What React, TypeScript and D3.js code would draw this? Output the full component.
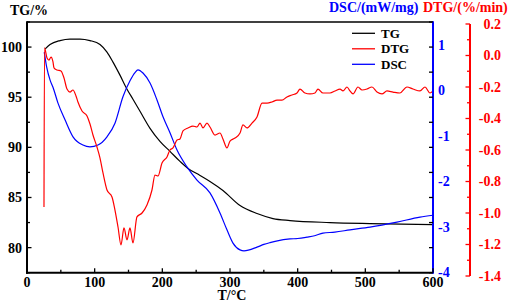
import React from "react";
import * as d3 from "d3";

// ---- data ----
const tgT = [26.6, 34, 48.8, 63.5, 78.3, 93.1, 107.9, 118.2, 127.1, 137.4, 147.8, 156.6, 167, 181.8, 196.5, 211.3, 226.1, 237.9, 255.7, 270.4, 289.6, 314.8, 339.9, 363.5, 388.7, 447.8, 506.9, 600];
const tgV = [99.8, 100.25, 100.65, 100.8, 100.8, 100.65, 100.25, 99.5, 98.5, 97.2, 95.8, 94.8, 93.6, 91.9, 90.6, 89.6, 88.6, 87.9, 87.2, 86.6, 85.7, 84.2, 83.4, 82.9, 82.7, 82.5, 82.4, 82.3];

const dscT = [25.5, 29.1, 34, 38.4, 45.8, 56, 68, 82.7, 93.1, 104.9, 118.2, 130, 141.8, 152.2, 159.6, 164, 171.4, 181.8, 192.1, 201, 211.3, 221.7, 236.4, 251.2, 270.4, 285.2, 295.5, 304.4, 314.8, 320.7, 339.9, 350, 359.1, 370, 388.7, 400, 413.8, 425, 437.4, 455, 477.3, 506.9, 546.8, 580.8, 600];
const dscV = [0.84, 0.51, 0.23, 0.07, -0.28, -0.64, -1.02, -1.2, -1.24, -1.2, -1.02, -0.72, -0.14, 0.21, 0.39, 0.45, 0.38, 0.16, -0.21, -0.58, -0.93, -1.31, -1.68, -1.97, -2.25, -2.69, -3.06, -3.35, -3.5, -3.52, -3.44, -3.38, -3.34, -3.3, -3.26, -3.25, -3.22, -3.19, -3.13, -3.11, -3.06, -3.0, -2.89, -2.78, -2.74];

const dtgT = [25.1, 25.9, 29.6, 32.5, 35.5, 38.4, 39.9, 44.3, 50.2, 54.7, 59.1, 63.5, 67.9, 72.4, 75.3, 81.3, 88.7, 93.1, 97.5, 103.4, 107.9, 112.3, 118.2, 125.6, 130.0, 134.5, 138.9, 143.3, 147.8, 152.2, 156.6, 162.5, 170.0, 177.3, 184.7, 189.1, 193.6, 199.5, 206.9, 211.3, 215.7, 221.7, 226.1, 230.5, 237.9, 245.3, 251.2, 255.7, 260.1, 266.0, 270.4, 277.8, 285.2, 289.6, 295.5, 300.0, 307.4, 314.8, 319.2, 325.1, 332.5, 339.9, 347.3, 354.7, 362.1, 369.5, 376.8, 384.2, 391.6, 399.0, 403.4, 410.8, 418.2, 425.6, 430.0, 437.4, 447.8, 455.2, 462.6, 467.0, 472.9, 477.3, 481.8, 489.1, 495.1, 502.5, 509.8, 517.2, 524.6, 532.0, 540.9, 551.2, 561.5, 570.4, 580.8, 588.2, 595.5, 600];
const dtgV = [-0.962, 0.048, -0.016, -0.029, -0.01, -0.041, -0.079, -0.092, -0.098, -0.143, -0.213, -0.232, -0.219, -0.257, -0.295, -0.352, -0.384, -0.435, -0.505, -0.581, -0.651, -0.746, -0.854, -0.898, -0.981, -1.089, -1.203, -1.095, -1.171, -1.095, -1.19, -1.025, -1.0, -0.949, -0.854, -0.759, -0.765, -0.683, -0.644, -0.6, -0.587, -0.537, -0.53, -0.479, -0.46, -0.448, -0.454, -0.429, -0.46, -0.429, -0.454, -0.505, -0.492, -0.53, -0.587, -0.543, -0.524, -0.492, -0.441, -0.46, -0.429, -0.39, -0.302, -0.302, -0.295, -0.283, -0.283, -0.263, -0.251, -0.238, -0.213, -0.238, -0.244, -0.238, -0.213, -0.238, -0.238, -0.225, -0.213, -0.225, -0.2, -0.225, -0.244, -0.2, -0.219, -0.213, -0.2, -0.232, -0.244, -0.225, -0.232, -0.238, -0.2, -0.213, -0.225, -0.2, -0.238, -0.225];

const xTicks = [0, 100, 200, 300, 400, 500, 600];
const tgTicks = [80, 85, 90, 95, 100];
const dscTicks = [-4, -3, -2, -1, 0, 1];
const dtgTicks = [0.2, 0.0, -0.2, -0.4, -0.6, -0.8, -1.0, -1.2, -1.4];
const legendItems = [
  { name: "TG", color: "#000000" },
  { name: "DTG", color: "#ff0000" },
  { name: "DSC", color: "#0000ff" },
];

const FONT = "'Liberation Serif', 'Times New Roman', serif";

export default function App() {
  const L = 27, R = 433, T = 22, B = 272.7;
  const x = d3.scaleLinear().domain([0, 600]).range([L, R]);
  const yTG = d3.scaleLinear().domain([77.5, 102.5]).range([B, T]);
  const yDSC = d3.scaleLinear().domain([-4, 1.5]).range([B, T]);
  const yDTG = d3.scaleLinear().domain([-1.4, 0.2]).range([276, 24]);

  const mk = (xs: number[], ys: number[], ys_: (v: number) => number) =>
    d3.line<number>().x((_, i) => x(xs[i])).y((v) => ys_(v)).curve(d3.curveMonotoneX)(ys) || "";

  const tgPath = mk(tgT, tgV, yTG);
  const dscPath = mk(dscT, dscV, yDSC);
  const dtgPath = mk(dtgT, dtgV, yDTG);

  const xMinor = d3.range(0, 601, 50);
  const tgMinor = d3.range(77.5, 102.6, 2.5);
  const dtgMinor = d3.range(-14, 3, 1).map((v) => v / 10);
  const RA = 470;

  return (
    <svg width={510} height={306} style={{ position: "absolute", left: 0, top: 0, background: "#fff" }} fontFamily={FONT} fontWeight="bold">
      {/* curves */}
      <path d={tgPath} fill="none" stroke="#000" strokeWidth={1.2} />
      <path d={dscPath} fill="none" stroke="#0000ff" strokeWidth={1.2} />
      <path d={dtgPath} fill="none" stroke="#ff0000" strokeWidth={1.2} />

      {/* frame */}
      <line x1={L} x2={R} y1={T} y2={T} stroke="#000" strokeWidth={1.5} />
      <line x1={L - 1} x2={R} y1={B} y2={B} stroke="#000" strokeWidth={2} />
      <line x1={L} x2={L} y1={T - 0.75} y2={B + 1} stroke="#000" strokeWidth={2} />
      <line x1={R} x2={R} y1={T - 0.75} y2={B + 1} stroke="#0000ff" strokeWidth={2} />

      {/* x ticks */}
      {xMinor.map((v) => (
        <line key={"xm" + v} x1={x(v)} x2={x(v)} y1={B} y2={B - (v % 100 === 0 ? 4.5 : 3)} stroke="#000" strokeWidth={1.3} />
      ))}
      {xTicks.map((v) => (
        <text key={"xt" + v} x={x(v)} y={287} textAnchor="middle" fontSize={14}>{v}</text>
      ))}
      <text x={(L + R) / 2 + 2} y={300} textAnchor="middle" fontSize={14}>T/°C</text>

      {/* left TG ticks and mirrored right ticks */}
      {tgMinor.map((v, i) => (
        <g key={"tm" + i}>
          <line x1={L} x2={L + (i % 2 === 1 ? 4.5 : 3)} y1={yTG(v)} y2={yTG(v)} stroke="#000" strokeWidth={1.3} />
          <line x1={R} x2={R - 4} y1={yTG(v)} y2={yTG(v)} stroke="#000" strokeWidth={1.3} />
        </g>
      ))}
      {tgTicks.map((v) => (
        <text key={"tt" + v} x={22} y={yTG(v)} dy="0.35em" textAnchor="end" fontSize={14}>{v}</text>
      ))}
      <text x={10} y={15} fontSize={14}>TG/%</text>

      {/* DSC labels */}
      {dscTicks.map((v) => (
        <text key={"dt" + v} x={438} y={yDSC(v) - (v === -4 ? 1 : 0)} dy="0.35em" textAnchor="start" fontSize={14} fill="#0000ff">{v}</text>
      ))}
      <text x={329} y={12} fontSize={14} fill="#0000ff">DSC/(mW/mg)</text>

      {/* DTG axis */}
      <line x1={RA} x2={RA} y1={yDTG(0.2)} y2={yDTG(-1.4)} stroke="#ff0000" strokeWidth={2} />
      {dtgMinor.map((v, i) => (
        <line key={"gm" + i} x1={RA} x2={RA - (i % 2 === 0 ? 4.5 : 3)} y1={yDTG(v)} y2={yDTG(v)} stroke="#ff0000" strokeWidth={1.3} />
      ))}
      {dtgTicks.map((v) => (
        <text key={"gt" + v} x={501} y={yDTG(v)} dy="0.35em" textAnchor="end" fontSize={14} fill="#ff0000">{v.toFixed(1)}</text>
      ))}
      <text x={423} y={12} fontSize={14} fill="#ff0000">DTG/(%/min)</text>

      {/* legend */}
      {legendItems.map((it, i) => {
        const yy = 33.3 + i * 15.5;
        return (
          <g key={it.name}>
            <line x1={352} x2={375} y1={yy} y2={yy} stroke={it.color} strokeWidth={1.3} />
            <text x={381} y={yy} dy="0.35em" fontSize={13} fill="#000">{it.name}</text>
          </g>
        );
      })}
    </svg>
  );
}
